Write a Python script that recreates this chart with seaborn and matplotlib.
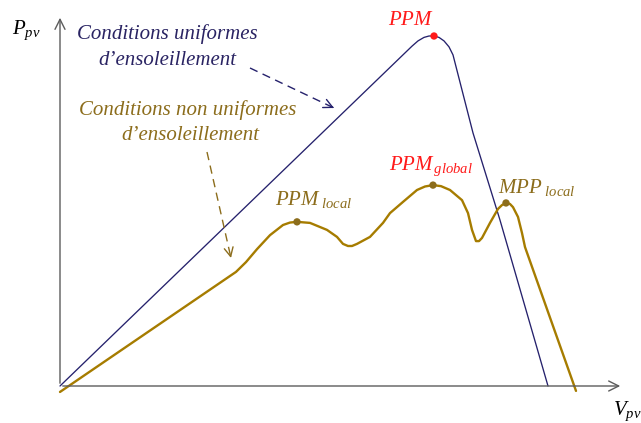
import matplotlib
matplotlib.use("Agg")
import matplotlib.pyplot as plt
import seaborn as sns
import pandas as pd

# courbe sous ensoleillement uniforme (V en unites arbitraires, P en % du max)
uniform_v = [0, 70.4, 71.6, 72.8, 73.8, 74.8, 75.8, 76.8, 77.8, 78.6, 82.6, 88.0, 97.6]
uniform_p = [0, 97.1, 98.6, 99.6, 100.0, 100.0, 99.6, 98.6, 96.9, 94.6, 72.3, 47.4, 0]

# courbe sous ensoleillement non uniforme
partial_v = [0, 35.2, 37.2, 39.4, 42.0, 44.6, 46.0, 47.4, 50.0, 53.4, 55.4, 56.6,
             57.6, 58.4, 59.4, 62.0, 64.6, 66.0, 68.6, 71.4, 73.0, 74.6, 76.2,
             78.0, 80.4, 81.6, 82.4, 83.2, 83.8, 84.4, 86.0, 87.6, 88.4, 89.2,
             90.0, 90.6, 91.6, 92.4, 93.0, 103.2]
partial_p = [-1.7, 32.6, 35.4, 39.1, 43.1, 46.0, 46.7, 46.9, 46.6, 44.6, 42.6, 40.6,
             40.0, 40.0, 40.6, 42.6, 46.6, 49.4, 52.6, 56.0, 57.0, 57.4, 57.1,
             56.0, 53.1, 49.4, 44.6, 41.4, 41.4, 42.3, 46.6, 50.6, 51.7, 52.3,
             52.0, 51.1, 48.3, 43.7, 39.7, -1.4]

# points de puissance maximale
ppm_v, ppm_p = [74.8], [100.0]
local_v = [47.4, 74.6, 89.2]
local_p = [46.9, 57.4, 52.3]

NAVY = "#25216c"
NAVY_TXT = "#2a2463"
OLIVE = "#a67c00"
OLIVE_TXT = "#8c6d1c"
RED = "#ff1a1a"
GREY = "#5c5c5c"

W, H = 641, 423
X0, Y0 = 60, 386      # origine des axes en pixels
SX, SY = 5.0, 3.5     # pixels par unite


def px(x, y):
    # position en pixels (depuis le haut) -> coordonnees des donnees
    return (x - X0) / SX, (Y0 - y) / SY


sns.set_style("white")
plt.rcParams["mathtext.fontset"] = "custom"
plt.rcParams["mathtext.it"] = "Liberation Serif:italic"
plt.rcParams["mathtext.rm"] = "Liberation Serif"
plt.rcParams["font.family"] = ["Liberation Serif", "DejaVu Serif"]

fig = plt.figure(figsize=(W / 100, H / 100), dpi=100)
ax = fig.add_axes([0, 0, 1, 1])
ax.set_xlim(px(0, 0)[0], px(W, 0)[0])
ax.set_ylim(px(0, H)[1], px(0, 0)[1])
ax.axis("off")

# axes avec fleches
ax.annotate("", xy=px(X0, 15), xytext=px(X0, Y0),
            arrowprops=dict(arrowstyle="->", color=GREY, lw=1.0, mutation_scale=18))
ax.annotate("", xy=px(623, Y0), xytext=px(X0, Y0),
            arrowprops=dict(arrowstyle="->", color=GREY, lw=1.0, mutation_scale=18))

df_u = pd.DataFrame({"V": uniform_v, "P": uniform_p})
df_p = pd.DataFrame({"V": partial_v, "P": partial_p})
sns.lineplot(data=df_u, x="V", y="P", sort=False, color=NAVY, lw=0.95, ax=ax)
sns.lineplot(data=df_p, x="V", y="P", sort=False, color=OLIVE, lw=1.7, ax=ax,
             solid_joinstyle="round")
sns.scatterplot(x=local_v, y=local_p, color=OLIVE_TXT, s=28, edgecolor="none", ax=ax, zorder=5)
sns.scatterplot(x=ppm_v, y=ppm_p, color=RED, s=28, edgecolor="none", ax=ax, zorder=5)

# fleches en pointilles
for (x1, y1), (x2, y2), c in [((250, 68), (334, 108), NAVY),
                              ((207, 152), (231, 258), OLIVE_TXT)]:
    a, b = px(x1, y1)
    c2, d = px(x2, y2)
    ax.plot([a, c2], [b, d], color=c, lw=1.0, ls=(0, (6, 4)))
    ax.annotate("", xy=(c2, d), xytext=(c2 - (c2 - a) * 0.05, d - (d - b) * 0.05),
                arrowprops=dict(arrowstyle="->", color=c, lw=1.0, mutation_scale=16))

fs = 15
ax.text(*px(167, 34), "Conditions uniformes", color=NAVY_TXT, fontsize=fs,
        style="italic", ha="center", va="center")
ax.text(*px(167, 60), "d\u2019ensoleillement", color=NAVY_TXT, fontsize=fs,
        style="italic", ha="center", va="center")
ax.text(*px(188, 110), "Conditions non uniformes", color=OLIVE_TXT, fontsize=fs,
        style="italic", ha="center", va="center")
ax.text(*px(190, 135), "d\u2019ensoleillement", color=OLIVE_TXT, fontsize=fs,
        style="italic", ha="center", va="center")

ax.text(*px(12, 34), r"$P_{pv}$", color="black", fontsize=15, ha="left", va="baseline")
ax.text(*px(613, 415), r"$V_{pv}$", color="black", fontsize=15, ha="left", va="baseline")
ax.text(*px(411, 25), r"$PPM$", color=RED, fontsize=fs, ha="center", va="baseline")
ax.text(*px(389, 170), r"$PPM_{\,global}$", color=RED, fontsize=fs, ha="left", va="baseline")
ax.text(*px(275, 205), r"$PPM_{\ local}$", color=OLIVE_TXT, fontsize=fs, ha="left", va="baseline")
ax.text(*px(498, 193), r"$MPP_{\ local}$", color=OLIVE_TXT, fontsize=fs, ha="left", va="baseline")

fig.savefig("out.png", dpi=100)
